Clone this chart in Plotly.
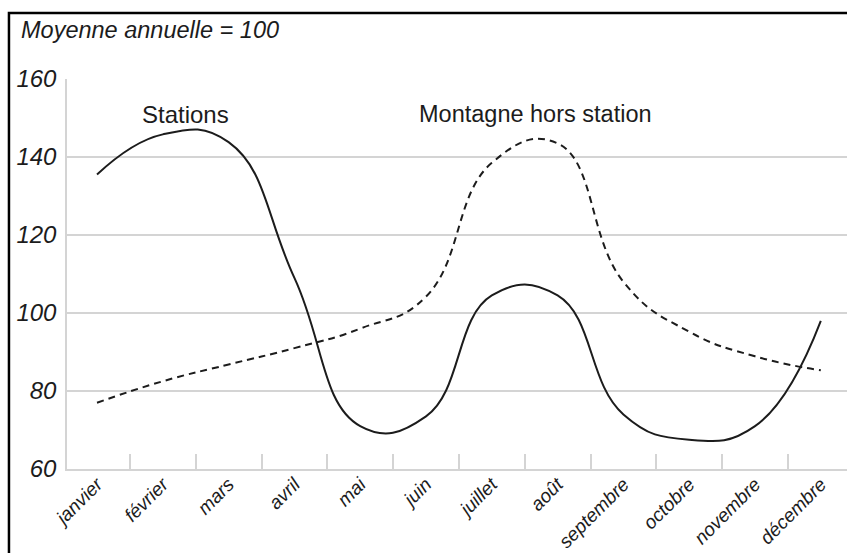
import plotly.graph_objects as go

months = ["janvier", "février", "mars", "avril", "mai", "juin", "juillet",
          "août", "septembre", "octobre", "novembre", "décembre"]
stations = [135.5, 145.8, 143.8, 109, 71, 73.5, 104.5, 104.5, 74, 67.5, 71, 98]
montagne = [77, 82.5, 86.8, 91, 96, 104.2, 138.5, 143.5, 108, 95.2, 88.9, 85.3]
y_ticks = [60, 80, 100, 120, 140, 160]

FONT = "Liberation Sans, Arial, sans-serif"
GRID = "#d4d4d4"
INK = "#1c1c1c"

fig = go.Figure()
fig.add_trace(go.Scatter(
    x=months, y=stations, mode="lines", name="Stations",
    line=dict(color=INK, width=2, shape="spline", smoothing=1.3),
))
fig.add_trace(go.Scatter(
    x=months, y=montagne, mode="lines", name="Montagne hors station",
    line=dict(color=INK, width=2, dash="7px,5px", shape="spline", smoothing=1.3),
))

fig.update_layout(
    width=847, height=553,
    margin=dict(l=67, r=0, t=79, b=84, autoexpand=False),
    paper_bgcolor="white", plot_bgcolor="white",
    showlegend=False,
    font=dict(family=FONT, color=INK),
    xaxis=dict(
        type="category", range=[-0.456, 11.398], automargin=False,
        showgrid=False, zeroline=False,
        showline=True, linecolor=GRID, linewidth=1.5,
        ticks="inside", tickson="boundaries", ticklen=15,
        tickcolor=GRID, tickwidth=1.5,
        tickangle=-45, ticklabelstandoff=-5,
        tickfont=dict(family=FONT, size=19, style="italic", color=INK),
    ),
    yaxis=dict(
        range=[60, 160], tickvals=y_ticks, automargin=False,
        showgrid=True, gridcolor=GRID, gridwidth=1.5,
        zeroline=False,
        showline=True, linecolor=GRID, linewidth=1.5,
        ticks="", ticklabelstandoff=4,
        tickfont=dict(family=FONT, size=24, style="italic", color=INK),
    ),
)

# Frame around the whole figure
fig.add_shape(type="rect", xref="paper", yref="paper",
              x0=-0.0744, x1=1.05, y0=-0.4, y1=1.169,
              line=dict(color="black", width=2.5), layer="above")

fig.add_annotation(text="Moyenne annuelle = 100", xref="paper", yref="paper",
                   x=-0.0615, y=1.1255, xanchor="left", yanchor="middle",
                   showarrow=False,
                   font=dict(family=FONT, size=23.5, style="italic", color=INK))
fig.add_annotation(text="Stations", x=1.35, y=151, xref="x", yref="y",
                   showarrow=False, xanchor="center", yanchor="middle",
                   font=dict(family=FONT, size=24, color=INK))
fig.add_annotation(text="Montagne hors station", x=6.67, y=151, xref="x", yref="y",
                   showarrow=False, xanchor="center", yanchor="middle",
                   font=dict(family=FONT, size=23.5, color=INK))

fig.write_html("out.html")
